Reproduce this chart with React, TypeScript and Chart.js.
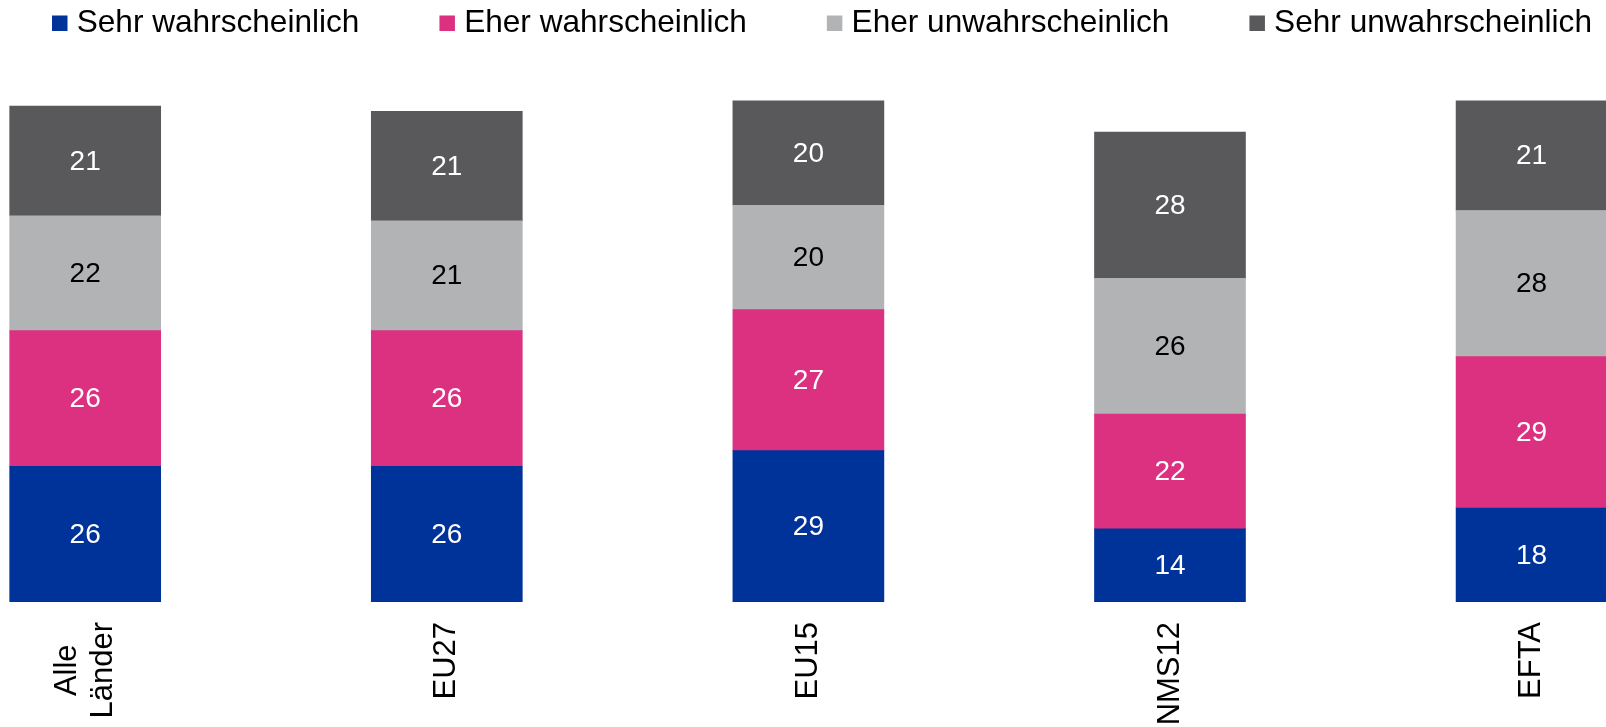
import React, { useEffect, useRef } from 'react';
import { Chart, registerables } from 'chart.js';

Chart.register(...registerables);

// ---- data ----
const categories = ['Alle Länder', 'EU27', 'EU15', 'NMS12', 'EFTA'];
const seriesNames = ['Sehr wahrscheinlich', 'Eher wahrscheinlich', 'Eher unwahrscheinlich', 'Sehr unwahrscheinlich'];
const sehrWahrscheinlich = [26, 26, 29, 14, 18];
const eherWahrscheinlich = [26, 26, 27, 22, 29];
const eherUnwahrscheinlich = [22, 21, 20, 26, 28];
const sehrUnwahrscheinlich = [21, 21, 20, 28, 21];

// ---- styles ----
const seriesColors = ['#003399', '#DC3180', '#B2B3B5', '#59595B'];
const labelColors = ['#FFFFFF', '#FFFFFF', '#000000', '#FFFFFF'];
const FONT = '"Liberation Sans", Arial, Helvetica, sans-serif';
const X_MIN = -0.2356;
const X_MAX = 4.2058;

const legendPlugin = {
  id: 'topLegend',
  afterDraw(chart: any) {
    const ctx = chart.ctx;
    ctx.save();
    ctx.font = `31.6px ${FONT}`;
    const box = 15.5;
    const textGap = 24.7;
    const itemGap = 80;
    const items = chart.data.datasets.map((ds: any) => ({
      label: ds.label,
      color: ds.backgroundColor,
      w: ctx.measureText(ds.label).width,
    }));
    const total = items.reduce((s: number, it: any) => s + textGap + it.w, 0) + itemGap * (items.length - 1);
    let x = 822 - total / 2;
    ctx.textAlign = 'left';
    ctx.textBaseline = 'alphabetic';
    items.forEach((it: any) => {
      ctx.fillStyle = it.color;
      ctx.fillRect(x, 15.5, box, box);
      ctx.fillStyle = '#000000';
      ctx.fillText(it.label, x + textGap, 32);
      x += textGap + it.w + itemGap;
    });
    ctx.restore();
  },
};

const valueLabelPlugin = {
  id: 'valueLabels',
  afterDatasetsDraw(chart: any) {
    const ctx = chart.ctx;
    ctx.save();
    ctx.font = `28px ${FONT}`;
    ctx.textAlign = 'center';
    ctx.textBaseline = 'middle';
    chart.data.datasets.forEach((ds: any, i: number) => {
      const meta = chart.getDatasetMeta(i);
      meta.data.forEach((bar: any, j: number) => {
        const { x, y, base } = bar.getProps(['x', 'y', 'base'], true);
        const v = ds.data[j].y;
        ctx.fillStyle = labelColors[i];
        ctx.fillText(String(v), x, (y + base) / 2 + 1);
      });
    });
    ctx.restore();
  },
};

// category labels below the bars, rotated, multi-line blocks centred on the tick
const xLabelPlugin = {
  id: 'xLabels',
  afterDraw(chart: any) {
    const ctx = chart.ctx;
    const xs = chart.scales.x;
    const top = chart.chartArea.bottom + 20;
    const lineHeight = 36;
    ctx.save();
    ctx.font = `31px ${FONT}`;
    ctx.fillStyle = '#000000';
    ctx.textAlign = 'center';
    ctx.textBaseline = 'middle';
    categories.forEach((cat, i) => {
      const lines = cat.split(' ');
      const blockLen = Math.max(...lines.map((l) => ctx.measureText(l).width));
      const cy = top + blockLen / 2;
      const px = xs.getPixelForValue(i);
      lines.forEach((line, k) => {
        const cx = px + (k - (lines.length - 1) / 2) * lineHeight;
        ctx.save();
        ctx.translate(cx, cy);
        ctx.rotate(-Math.PI / 2);
        ctx.fillText(line, 0, 0);
        ctx.restore();
      });
    });
    ctx.restore();
  },
};

export default function App() {
  const canvasRef = useRef<HTMLCanvasElement | null>(null);

  useEffect(() => {
    document.body.style.margin = '0';
    document.body.style.overflow = 'hidden';
    const canvas = canvasRef.current;
    if (!canvas) return;
    const seriesValues = [sehrWahrscheinlich, eherWahrscheinlich, eherUnwahrscheinlich, sehrUnwahrscheinlich];
    const chart = new Chart(canvas, {
      type: 'bar',
      data: {
        datasets: seriesNames.map((name, i) => ({
          label: name,
          data: seriesValues[i].map((v, j) => ({ x: j, y: v })),
          backgroundColor: seriesColors[i],
          borderWidth: 0,
          barThickness: 151,
        })),
      },
      options: {
        animation: false,
        responsive: false,
        layout: { padding: { top: 80, left: 0, right: 0, bottom: 125 } },
        plugins: {
          legend: { display: false },
          tooltip: { enabled: false },
        },
        scales: {
          x: {
            type: 'linear',
            min: X_MIN,
            max: X_MAX,
            offset: false,
            stacked: true,
            grid: { display: false, drawTicks: false },
            border: { display: false },
            ticks: { display: false, stepSize: 1 },
          },
          y: {
            display: false,
            stacked: true,
            min: 0,
            max: 100,
          },
        },
      },
      plugins: [valueLabelPlugin, xLabelPlugin, legendPlugin],
    } as any);
    return () => chart.destroy();
  }, []);

  return (
    <div style={{ width: 1606, height: 727, position: 'relative' }}>
      <canvas ref={canvasRef} width={1606} height={727} style={{ display: 'block' }} />
    </div>
  );
}
